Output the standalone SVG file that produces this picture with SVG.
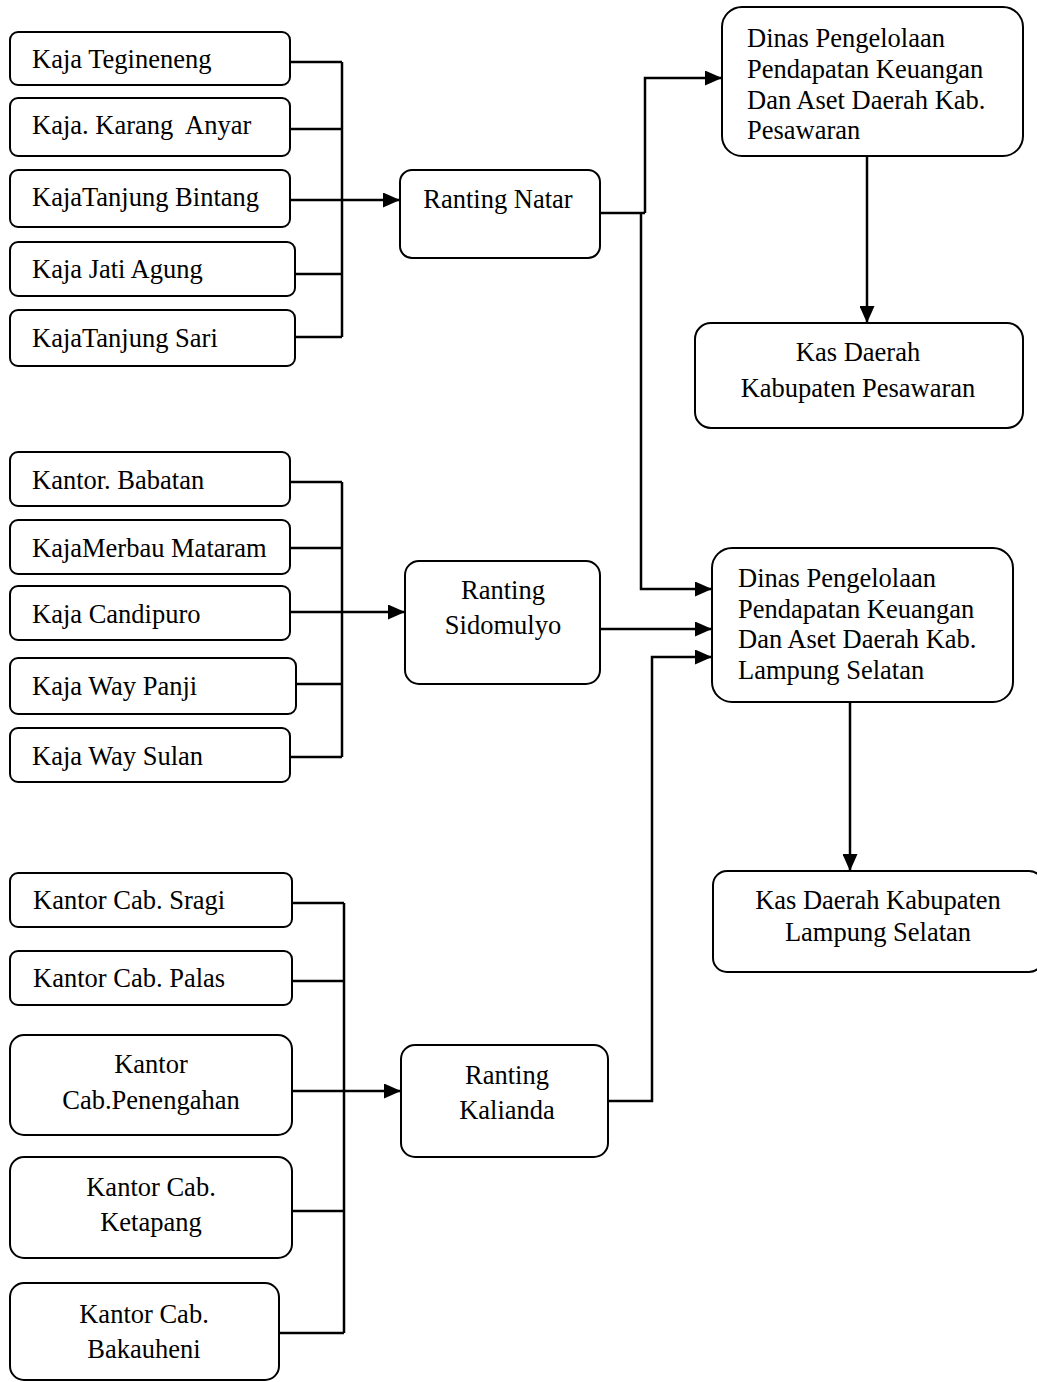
<svg xmlns="http://www.w3.org/2000/svg" width="1037" height="1382" viewBox="0 0 1037 1382">
<style>
.box{fill:#fff;stroke:#000;stroke-width:2}
.t{font-family:"Liberation Serif","Times New Roman",serif;font-size:26.5px;fill:#000}
.c{text-anchor:middle}
.ln{fill:none;stroke:#000;stroke-width:2.5}
</style>
<defs>
<marker id="ah" viewBox="0 0 17 15" refX="17" refY="7.5" markerWidth="17" markerHeight="15" markerUnits="userSpaceOnUse" orient="auto">
<path d="M0,0 L17,7.5 L0,15 Z" fill="#000"/>
</marker>
</defs>
<g id="connectors">
<path class="ln" d="M290,62 H342 M290,129 H342 M295,274 H342 M295,337 H342 M342,62 V337"/>
<path class="ln" d="M290,200 H400" marker-end="url(#ah)"/>
<path class="ln" d="M600,213 H645"/>
<path class="ln" d="M645,213 V78 H722" marker-end="url(#ah)"/>
<path class="ln" d="M641,213 V589 H712" marker-end="url(#ah)"/>
<path class="ln" d="M867,156 V323" marker-end="url(#ah)"/>
<path class="ln" d="M290,482 H342 M290,548 H342 M296,684 H342 M290,757 H342 M342,482 V757"/>
<path class="ln" d="M290,612 H405" marker-end="url(#ah)"/>
<path class="ln" d="M600,629 H712" marker-end="url(#ah)"/>
<path class="ln" d="M850,702 V871" marker-end="url(#ah)"/>
<path class="ln" d="M292,903 H344 M292,981 H344 M292,1211 H344 M279,1333 H344 M344,903 V1333"/>
<path class="ln" d="M292,1091 H401" marker-end="url(#ah)"/>
<path class="ln" d="M608,1101 H652 V657 H712" marker-end="url(#ah)"/>
</g>
<g id="n-tegineneng"><rect class="box" x="10" y="32" width="280" height="53" rx="8"/><text class="t" x="32" y="68">Kaja Tegineneng</text></g>
<g id="n-karang-anyar"><rect class="box" x="10" y="98" width="280" height="58" rx="8"/><text class="t" x="32" y="134" xml:space="preserve">Kaja. Karang  Anyar</text></g>
<g id="n-tanjung-bintang"><rect class="box" x="10" y="170" width="280" height="57" rx="8"/><text class="t" x="32" y="206">KajaTanjung Bintang</text></g>
<g id="n-jati-agung"><rect class="box" x="10" y="242" width="285" height="54" rx="8"/><text class="t" x="32" y="278">Kaja Jati Agung</text></g>
<g id="n-tanjung-sari"><rect class="box" x="10" y="310" width="285" height="56" rx="8"/><text class="t" x="32" y="347">KajaTanjung Sari</text></g>
<g id="n-ranting-natar"><rect class="box" x="400" y="170" width="200" height="88" rx="12"/><text class="t c" x="498" y="208">Ranting Natar</text></g>
<g id="n-dinas-pesawaran"><rect class="box" x="722" y="7" width="301" height="149" rx="20"/><text class="t" x="747" y="47">Dinas Pengelolaan</text><text class="t" x="747" y="78">Pendapatan Keuangan</text><text class="t" x="747" y="109">Dan Aset Daerah Kab.</text><text class="t" x="747" y="139">Pesawaran</text></g>
<g id="n-kas-pesawaran"><rect class="box" x="695" y="323" width="328" height="105" rx="16"/><text class="t c" x="858" y="361">Kas Daerah</text><text class="t c" x="858" y="397">Kabupaten Pesawaran</text></g>
<g id="n-babatan"><rect class="box" x="10" y="452" width="280" height="54" rx="8"/><text class="t" x="32" y="489">Kantor. Babatan</text></g>
<g id="n-merbau"><rect class="box" x="10" y="520" width="280" height="54" rx="8"/><text class="t" x="32" y="557">KajaMerbau Mataram</text></g>
<g id="n-candipuro"><rect class="box" x="10" y="586" width="280" height="54" rx="8"/><text class="t" x="32" y="623">Kaja Candipuro</text></g>
<g id="n-way-panji"><rect class="box" x="10" y="658" width="286" height="56" rx="8"/><text class="t" x="32" y="695">Kaja Way Panji</text></g>
<g id="n-way-sulan"><rect class="box" x="10" y="728" width="280" height="54" rx="8"/><text class="t" x="32" y="765">Kaja Way Sulan</text></g>
<g id="n-ranting-sidomulyo"><rect class="box" x="405" y="561" width="195" height="123" rx="14"/><text class="t c" x="503" y="599">Ranting</text><text class="t c" x="503" y="634">Sidomulyo</text></g>
<g id="n-dinas-lampung"><rect class="box" x="712" y="548" width="301" height="154" rx="20"/><text class="t" x="738" y="587">Dinas Pengelolaan</text><text class="t" x="738" y="618">Pendapatan Keuangan</text><text class="t" x="738" y="648">Dan Aset Daerah Kab.</text><text class="t" x="738" y="679">Lampung Selatan</text></g>
<g id="n-kas-lampung"><rect class="box" x="713" y="871" width="330" height="101" rx="14"/><text class="t c" x="878" y="909">Kas Daerah Kabupaten</text><text class="t c" x="878" y="941">Lampung Selatan</text></g>
<g id="n-sragi"><rect class="box" x="10" y="873" width="282" height="54" rx="8"/><text class="t" x="33" y="909">Kantor Cab. Sragi</text></g>
<g id="n-palas"><rect class="box" x="10" y="951" width="282" height="54" rx="8"/><text class="t" x="33" y="987">Kantor Cab. Palas</text></g>
<g id="n-penengahan"><rect class="box" x="10" y="1035" width="282" height="100" rx="14"/><text class="t c" x="151" y="1073">Kantor</text><text class="t c" x="151" y="1109">Cab.Penengahan</text></g>
<g id="n-ketapang"><rect class="box" x="10" y="1157" width="282" height="101" rx="14"/><text class="t c" x="151" y="1196">Kantor Cab.</text><text class="t c" x="151" y="1231">Ketapang</text></g>
<g id="n-bakauheni"><rect class="box" x="10" y="1283" width="269" height="97" rx="14"/><text class="t c" x="144" y="1323">Kantor Cab.</text><text class="t c" x="144" y="1358">Bakauheni</text></g>
<g id="n-ranting-kalianda"><rect class="box" x="401" y="1045" width="207" height="112" rx="14"/><text class="t c" x="507" y="1084">Ranting</text><text class="t c" x="507" y="1119">Kalianda</text></g>
</svg>
